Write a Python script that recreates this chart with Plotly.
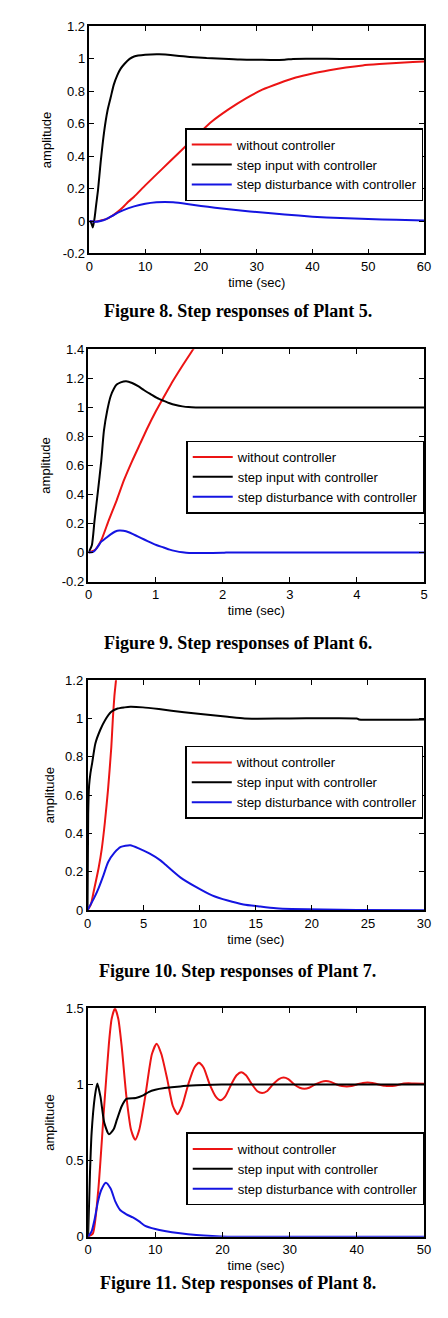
import plotly.graph_objects as go

# ---------------- Figure 8: Plant 5 ----------------
p5_red_t = [0, 1, 2, 3, 4, 5, 6, 7, 8, 10, 13, 16, 19, 22, 25, 28, 31, 34, 37, 40, 43, 46, 49, 52, 55, 58, 60]
p5_red_v = [0, -0.004, 0.003, 0.012, 0.03, 0.055, 0.085, 0.12, 0.15, 0.22, 0.32, 0.42, 0.52, 0.615, 0.69, 0.755,
            0.81, 0.85, 0.885, 0.91, 0.93, 0.947, 0.96, 0.968, 0.975, 0.981, 0.984]
p5_blk_t = [0, 0.3, 0.6, 0.95, 1.2, 1.53, 2.0, 2.65, 3.23, 3.79, 4.35, 5.0, 5.6, 6.3, 7.2, 8, 10, 12.5, 15.7, 18,
            21, 25, 27, 31, 35, 36.5, 45, 60]
p5_blk_v = [0, -0.01, -0.04, 0.027, 0.1, 0.19, 0.36, 0.556, 0.68, 0.76, 0.84, 0.9, 0.94, 0.97, 1.0, 1.015, 1.025,
            1.028, 1.02, 1.012, 1.005, 1.0, 0.996, 0.994, 0.995, 1.0, 1.0, 1.0]
p5_blu_t = [0, 1, 2, 3, 4, 5, 6, 8, 10, 12, 13.5, 15, 17.5, 20, 22.5, 25, 27.5, 30, 35, 40, 45, 50, 55, 60]
p5_blu_v = [0, -0.005, 0.0, 0.012, 0.03, 0.05, 0.066, 0.09, 0.106, 0.115, 0.117, 0.115, 0.105, 0.093, 0.082, 0.072,
            0.063, 0.055, 0.04, 0.027, 0.018, 0.012, 0.007, 0.003]

# ---------------- Figure 9: Plant 6 ----------------
p6_red_t = [0, 0.1, 0.19, 0.3, 0.42, 0.53, 0.65, 0.77, 0.88, 1.0, 1.12, 1.23, 1.35, 1.46, 1.56, 1.65]
p6_red_v = [0, 0.02, 0.085, 0.22, 0.36, 0.5, 0.63, 0.75, 0.86, 0.97, 1.07, 1.16, 1.25, 1.33, 1.40, 1.46]
p6_blk_t = [0, 0.05, 0.09, 0.14, 0.19, 0.23, 0.28, 0.33, 0.38, 0.42, 0.48, 0.56, 0.65, 0.74, 0.83, 0.93, 1.02,
            1.12, 1.21, 1.3, 1.4, 1.49, 1.6, 2.0, 5.0]
p6_blk_v = [0, 0.05, 0.22, 0.42, 0.63, 0.84, 0.98, 1.077, 1.13, 1.157, 1.172, 1.18, 1.168, 1.146, 1.118, 1.09,
            1.065, 1.045, 1.028, 1.016, 1.007, 1.002, 1.0, 1.0, 1.0]
p6_blu_t = [0, 0.07, 0.13, 0.19, 0.26, 0.33, 0.4, 0.46, 0.52, 0.6, 0.67, 0.74, 0.83, 0.93, 1.02, 1.12, 1.21, 1.3,
            1.4, 1.5, 2.0, 2.05, 5.0]
p6_blu_v = [0, 0.005, 0.035, 0.075, 0.1, 0.125, 0.145, 0.152, 0.15, 0.14, 0.125, 0.11, 0.09, 0.068, 0.05, 0.035,
            0.02, 0.01, 0.002, -0.003, -0.002, 0.0, 0.0]

# ---------------- Figure 10: Plant 7 ----------------
p7_red_t = [0, 0.3, 0.56, 0.99, 1.27, 1.55, 1.83, 2.12, 2.26, 2.4, 2.54, 2.7]
p7_red_v = [0, 0.03, 0.1, 0.22, 0.32, 0.46, 0.63, 0.85, 1.0, 1.12, 1.2, 1.32]
p7_blk_t = [0, 0.06, 0.14, 0.25, 0.42, 0.7, 1.13, 1.55, 2.12, 2.68, 3.3, 3.81, 4.94, 6.36, 8.6, 10.3, 12.5, 14.0,
            18, 24, 24.2, 30]
p7_blk_v = [0, 0.5, 0.65, 0.71, 0.77, 0.87, 0.94, 0.99, 1.035, 1.052, 1.058, 1.061, 1.058, 1.049, 1.033, 1.022,
            1.009, 1.0, 1.0, 1.0, 0.995, 0.995]
p7_blu_t = [0, 0.56, 0.99, 1.41, 1.83, 2.4, 2.97, 3.81, 4.66, 5.51, 6.5, 6.9, 8.3, 9.7, 11.1, 12.5, 13.9, 15.4,
            16.8, 18.2, 21, 24, 30]
p7_blu_v = [0, 0.06, 0.115, 0.18, 0.25, 0.30, 0.33, 0.339, 0.32, 0.296, 0.26, 0.24, 0.17, 0.12, 0.077, 0.05, 0.03,
            0.019, 0.01, 0.006, 0.003, 0.001, 0.0]

# ---------------- Figure 11: Plant 8 ----------------
p8_red_t = [0, 0.7, 1.5, 2.4, 3.1, 3.5, 4.0, 4.5, 5.0, 5.7, 6.4, 7.0, 7.6, 8.5, 9.5, 10.2, 10.9, 11.8, 12.6, 13.3,
            14.0, 14.9, 15.8, 16.5, 17.2, 18.1, 19.0, 19.7, 20.4, 21.3, 22.1, 22.8, 23.5, 24.4, 25.2, 25.9, 26.6,
            27.5, 28.4, 29.1, 29.8, 30.7, 31.5, 32.2, 32.9, 33.8, 34.7, 35.4, 36.1, 37.0, 37.8, 38.5, 39.2, 40.0,
            40.9, 41.6, 42.3, 43.2, 44.2, 44.9, 45.6, 46.4, 47.0, 47.7, 48.5, 50]
p8_red_v = [0, 0.02, 0.3, 0.86, 1.27, 1.43, 1.5, 1.43, 1.25, 0.92, 0.7, 0.636, 0.7, 0.92, 1.2, 1.268, 1.2, 1.03,
            0.86, 0.805, 0.86, 1.0, 1.11, 1.143, 1.11, 1.0, 0.92, 0.896, 0.92, 1.0, 1.06, 1.08, 1.06, 1.0, 0.955,
            0.944, 0.955, 1.0, 1.035, 1.045, 1.035, 1.0, 0.978, 0.972, 0.978, 1.0, 1.017, 1.022, 1.017, 1.0, 0.99,
            0.987, 0.99, 1.0, 1.01, 1.013, 1.01, 1.0, 0.991, 0.99, 0.992, 1.0, 1.006, 1.008, 1.006, 1.004]
p8_blk_t = [0, 0.28, 0.52, 1.0, 1.37, 1.84, 2.4, 3.1, 3.8, 4.3, 5.0, 5.7, 7.1, 8.1, 9.0, 10, 11.4, 13.7, 16.1,
            18.5, 20.8, 50]
p8_blk_v = [0, 0.42, 0.68, 0.92, 1.006, 0.92, 0.75, 0.673, 0.705, 0.77, 0.857, 0.905, 0.911, 0.926, 0.95, 0.965,
            0.976, 0.987, 0.994, 0.998, 1.0, 1.0]
p8_blu_t = [0, 0.52, 1.0, 1.46, 1.94, 2.64, 3.35, 4.06, 4.77, 5.7, 6.66, 7.6, 8.5, 10, 11.4, 13.7, 16.1, 18.5,
            20.8, 50]
p8_blu_v = [0, 0.035, 0.12, 0.23, 0.305, 0.355, 0.316, 0.23, 0.175, 0.147, 0.126, 0.1, 0.071, 0.05, 0.037, 0.022,
            0.011, 0.004, 0.0, 0.0]

# ---------------- labels / ticks ----------------
series_names = ["without controller", "step input with controller", "step disturbance with controller"]
captions = ["Figure 8. Step responses of Plant 5.", "Figure 9. Step responses of Plant 6.",
            "Figure 10. Step responses of Plant 7.", "Figure 11. Step responses of Plant 8."]
x_ticks = [[0, 10, 20, 30, 40, 50, 60], [0, 1, 2, 3, 4, 5], [0, 5, 10, 15, 20, 25, 30], [0, 10, 20, 30, 40, 50]]
y_ticks = [[-0.2, 0, 0.2, 0.4, 0.6, 0.8, 1, 1.2], [-0.2, 0, 0.2, 0.4, 0.6, 0.8, 1, 1.2, 1.4],
           [0, 0.2, 0.4, 0.6, 0.8, 1, 1.2], [0, 0.5, 1, 1.5]]
y_tick_text = [["-0.2", "0", "0.2", "0.4", "0.6", "0.8", "1", "1.2"],
               ["-0.2", "0", "0.2", "0.4", "0.6", "0.8", "1", "1.2", "1.4"],
               ["0", "0.2", "0.4", "0.6", "0.8", "1", "1.2"],
               ["0", "0.5", "1", "1.5"]]
x_label = "time (sec)"
y_label = "amplitude"

# ---------------- layout geometry (page pixels) ----------------
OFF_X, OFF_Y = 0, 8          # where the figure lands in the page
W, H = 432, 1302
plot_boxes = [(87.7, 431.0, 27.7, 257.3), (86.7, 431.0, 354.3, 589.3),
              (85.7, 431.0, 689.0, 921.7), (86.3, 431.0, 1021.0, 1252.0)]
legend_pos = [(186.0, 167.5), (187.0, 483.5), (186.0, 792.5), (187.0, 1183.5)]
caption_y = [316, 651, 983, 1299]
caption_x = 240


def px(x):
    return min(max((x - OFF_X) / W, 0.0), 1.0)


def py(y):
    return min(max(1 - (y - OFF_Y) / H, 0.0), 1.0)


colors = ["rgb(236,20,20)", "rgb(0,0,0)", "rgb(20,20,225)"]
data = [
    [(p5_red_t, p5_red_v), (p5_blk_t, p5_blk_v), (p5_blu_t, p5_blu_v)],
    [(p6_red_t, p6_red_v), (p6_blk_t, p6_blk_v), (p6_blu_t, p6_blu_v)],
    [(p7_red_t, p7_red_v), (p7_blk_t, p7_blk_v), (p7_blu_t, p7_blu_v)],
    [(p8_red_t, p8_red_v), (p8_blk_t, p8_blk_v), (p8_blu_t, p8_blu_v)],
]

font_sans = "Liberation Sans, Arial, sans-serif"
fig = go.Figure()
layout = dict(width=W, height=H, margin=dict(l=0, r=0, t=0, b=0), paper_bgcolor="white",
              plot_bgcolor="white", font=dict(family=font_sans, size=13, color="black"), annotations=[])

for i in range(4):
    sfx = "" if i == 0 else str(i + 1)
    x0, x1, y0, y1 = plot_boxes[i]
    xt, yt = x_ticks[i], y_ticks[i]
    leg = "legend" if i == 0 else "legend" + str(i + 1)
    for j in range(3):
        t, v = data[i][j]
        fig.add_trace(go.Scatter(x=t, y=v, mode="lines", name=series_names[j],
                                 line=dict(color=colors[j], width=2, shape="spline", smoothing=0.6),
                                 xaxis="x" + sfx, yaxis="y" + sfx, legend=leg, showlegend=True))
    axis_common = dict(showline=True, linecolor="black", linewidth=1.5, mirror="ticks", ticks="inside",
                       ticklen=5, tickwidth=1, tickcolor="black", showgrid=False, zeroline=False,
                       ticklabeloverflow="allow",
                       tickfont=dict(family=font_sans, size=13, color="black"), fixedrange=True)
    layout["xaxis" + sfx] = dict(domain=[px(x0), px(x1)], anchor="y" + sfx, range=[xt[0], xt[-1]],
                                 tickvals=xt, ticktext=[str(k) for k in xt],
                                 title=dict(text=x_label, standoff=5, font=dict(size=13)), **axis_common)
    layout["yaxis" + sfx] = dict(domain=[py(y1), py(y0)], anchor="x" + sfx, range=[yt[0], yt[-1]],
                                 tickvals=yt, ticktext=y_tick_text[i],
                                 title=dict(text=y_label, standoff=8, font=dict(size=13)), **axis_common)
    lx, ly = legend_pos[i]
    layout[leg] = dict(x=px(lx), y=py(ly), xanchor="left", yanchor="middle", bgcolor="white",
                       bordercolor="black", borderwidth=1.5, itemwidth=40,
                       font=dict(family=font_sans, size=13, color="black"), tracegroupgap=0)
    layout["annotations"].append(dict(text=captions[i], x=px(caption_x), y=py(caption_y[i]), xref="paper",
                                      yref="paper", xanchor="center", yanchor="middle", showarrow=False,
                                      font=dict(family="Liberation Serif, Times New Roman, serif", size=18,
                                                color="black", weight="bold")))

fig.update_layout(**layout)
fig.write_html("out.html")
